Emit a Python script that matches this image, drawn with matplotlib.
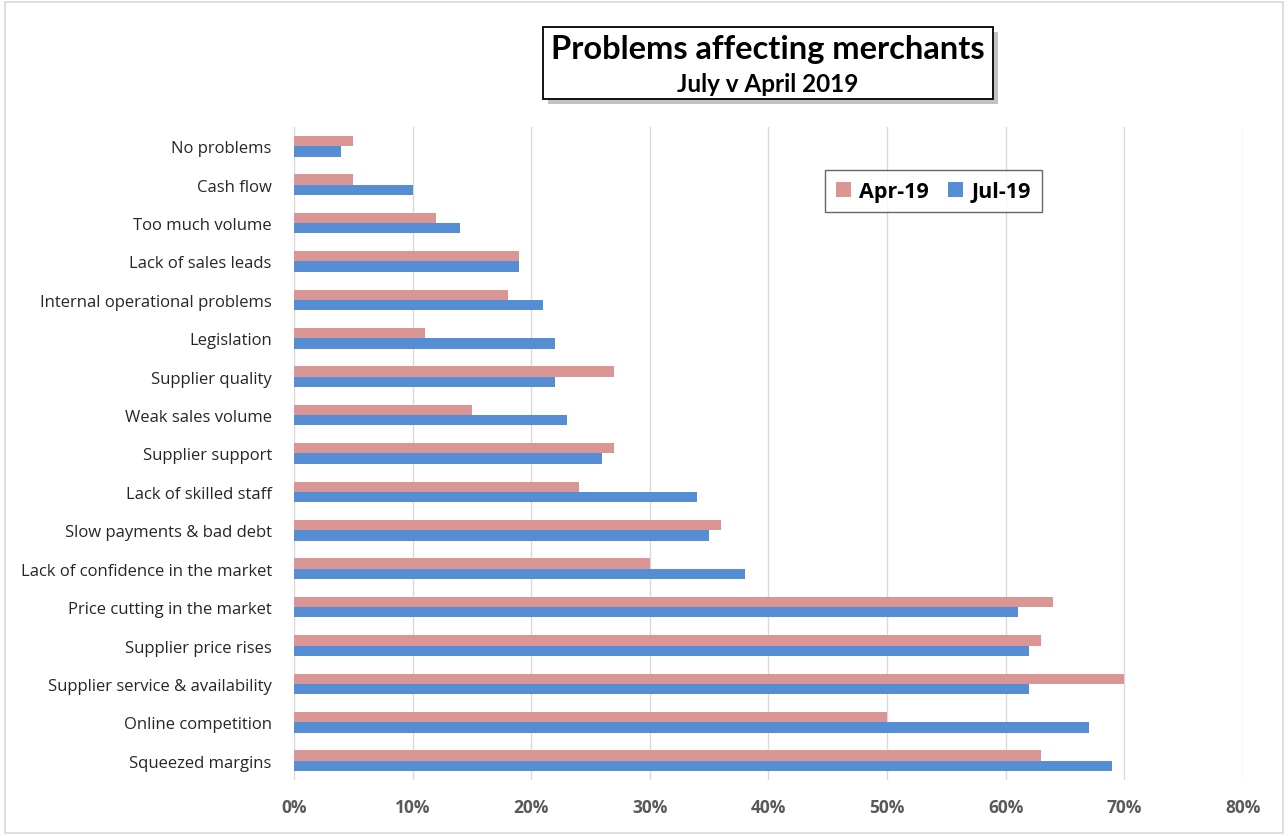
import matplotlib.pyplot as plt
import numpy as np
from matplotlib.patches import Rectangle
from matplotlib.ticker import PercentFormatter

# Categories listed top to bottom as shown
categories = [
    "No problems", "Cash flow", "Too much volume", "Lack of sales leads",
    "Internal operational problems", "Legislation", "Supplier quality",
    "Weak sales volume", "Supplier support", "Lack of skilled staff",
    "Slow payments & bad debt", "Lack of confidence in the market",
    "Price cutting in the market", "Supplier price rises",
    "Supplier service & availability", "Online competition", "Squeezed margins",
]
apr19 = [5, 5, 12, 19, 18, 11, 27, 15, 27, 24, 36, 30, 64, 63, 70, 50, 63]
jul19 = [4, 10, 14, 19, 21, 22, 22, 23, 26, 34, 35, 38, 61, 62, 62, 67, 69]

APR_COLOR = "#D99694"
JUL_COLOR = "#558ED5"

fig = plt.figure(figsize=(12.88, 8.37), dpi=100)
fig.patch.set_facecolor("white")

# light outer frame of the chart area
fig.add_artist(Rectangle((0.004, 0.004), 0.992, 0.992, transform=fig.transFigure,
                         fill=False, edgecolor="#D9D9D9", linewidth=1.2))

ax = fig.add_axes([0.2283, 0.067, 0.7367, 0.78])

y = np.arange(len(categories))
h = 0.27
ax.barh(y - h / 2, apr19, height=h, color=APR_COLOR, label="Apr-19", zorder=3)
ax.barh(y + h / 2, jul19, height=h, color=JUL_COLOR, label="Jul-19", zorder=3)

ax.set_ylim(len(categories) - 0.5, -0.5)
ax.set_xlim(0, 80)
ax.set_xticks(np.arange(0, 81, 10))
ax.xaxis.set_major_formatter(PercentFormatter(decimals=0))
ax.set_yticks(y)
ax.set_yticklabels(categories, fontsize=12, family="Open Sans", color="#262626")
for lbl in ax.get_xticklabels():
    lbl.set_fontsize(12.5)
    lbl.set_fontweight("bold")
    lbl.set_color("#595959")
    lbl.set_family("Open Sans")

ax.grid(axis="x", color="#D9D9D9", linewidth=1, zorder=0)
ax.tick_params(axis="both", length=0)
ax.tick_params(axis="y", pad=16)
ax.tick_params(axis="x", pad=13)
for s in ax.spines.values():
    s.set_visible(False)

leg = ax.legend(loc="upper left", bbox_to_anchor=(0.548, 0.951), ncol=2,
                frameon=True, fancybox=False, handlelength=0.7, handleheight=0.7,
                columnspacing=0.9, handletextpad=0.4, borderpad=0.5,
                prop={"family": "Open Sans", "weight": "bold", "size": 15.5})
leg.get_frame().set_edgecolor("#404040")
leg.get_frame().set_linewidth(1.0)

# title box with drop shadow
bx, by, bw, bh = 543 / 1288, 1 - 100 / 837, 450 / 1288, 72 / 837
fig.add_artist(Rectangle((bx + 0.004, by - 0.006), bw, bh, transform=fig.transFigure,
                         facecolor="#9a9a9a", edgecolor="none", alpha=0.6))
fig.add_artist(Rectangle((bx, by), bw, bh, transform=fig.transFigure,
                         facecolor="white", edgecolor="black", linewidth=1.3))
fig.text(bx + bw / 2, 1 - 50 / 837, "Problems affecting merchants", ha="center",
         va="center", fontsize=23.5, fontweight="bold", family="Lato")
fig.text(bx + bw / 2, 1 - 85 / 837, "July v April 2019", ha="center",
         va="center", fontsize=17.5, fontweight="bold", family="Lato")

fig.savefig("out.png", dpi=100)
